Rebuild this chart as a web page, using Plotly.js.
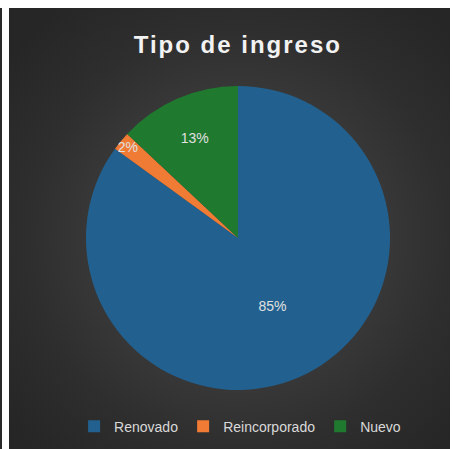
<!DOCTYPE html>
<html>
<head>
<meta charset="utf-8">
<script src="https://cdn.plot.ly/plotly-3.0.1.min.js"></script>
<style>
  html, body { margin: 0; padding: 0; background: #ffffff; width: 453px; height: 449px; overflow: hidden; }
  #strip { position: absolute; left: 0; top: 8px; width: 2px; height: 441px; background: #2a2a2a; }
  #bg { position: absolute; left: 9px; top: 8px; width: 441px; height: 441px;
        background: radial-gradient(circle at 52% 52%, #4a4a4a 0%, #3d3d3d 35%, #2e2e2e 65%, #262626 90%); }
  #chart { position: absolute; left: 0; top: 0; width: 453px; height: 449px; }
  .gtitle { letter-spacing: 2px; }
</style>
</head>
<body>
<div id="strip"></div>
<div id="bg"></div>
<div id="chart"></div>
<script>
const categories = ["Renovado", "Reincorporado", "Nuevo"];
const values = [85, 2, 13];
const colors = ["#22618f", "#ef7b34", "#1f7a2f"];

const data = [{
  type: "pie",
  labels: categories,
  values: values,
  sort: false,
  direction: "clockwise",
  rotation: 0,
  marker: { colors: colors, line: { width: 0 } },
  textinfo: "percent",
  textposition: "inside",
  insidetextorientation: "horizontal",
  texttemplate: "%{percent:.0%}",
  textfont: { family: "Liberation Sans, Arial, sans-serif", size: 14, color: "#e0e0e0" },
  hoverinfo: "none",
  domain: { x: [0.1898, 0.861], y: [0.1314, 0.8085] }
}];

const layout = {
  width: 453, height: 449,
  margin: { l: 0, r: 0, t: 0, b: 0 },
  paper_bgcolor: "rgba(0,0,0,0)",
  plot_bgcolor: "rgba(0,0,0,0)",
  uniformtext: { minsize: 14, mode: "show" },
  title: {
    text: "<b>Tipo de ingreso</b>",
    font: { family: "Liberation Sans, Arial, sans-serif", size: 24, color: "#f2f2f2" },
    x: 0.525, xanchor: "center", xref: "container",
    y: 0.9, yanchor: "middle", yref: "container"
  },
  showlegend: true,
  legend: {
    orientation: "h",
    x: 0.53, xanchor: "center",
    y: 0.05, yanchor: "middle",
    font: { family: "Liberation Sans, Arial, sans-serif", size: 14, color: "#d9d9d9" },
    bgcolor: "rgba(0,0,0,0)",
    itemwidth: 30,
    traceorder: "normal"
  }
};

Plotly.newPlot("chart", data, layout, { displayModeBar: false, staticPlot: true });
</script>
</body>
</html>
